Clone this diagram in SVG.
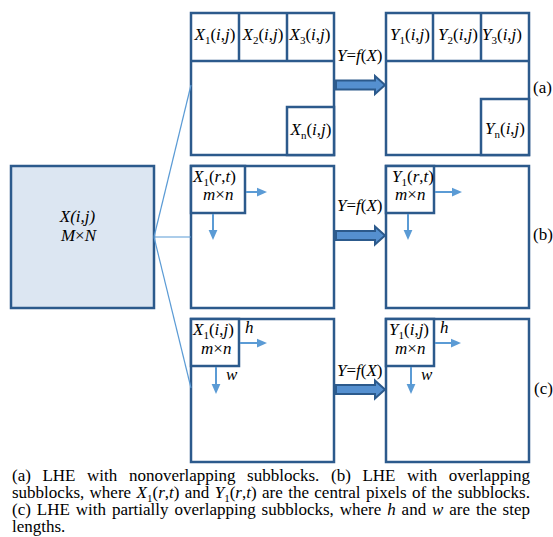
<svg xmlns="http://www.w3.org/2000/svg" width="553" height="537" viewBox="0 0 553 537">
<style>
  .box{fill:#ffffff;stroke:#2c5a8c;stroke-width:2.5}
  .big{fill:#dce6f2;stroke:#2c5a8c;stroke-width:2.5}
  .div{fill:none;stroke:#2c5a8c;stroke-width:2.5}
  .conn{fill:none;stroke:#5b9bd5;stroke-width:1.2}
  .sarr{fill:none;stroke:#5b9bd5;stroke-width:2}
  .barr{fill:#5590d0;stroke:#2c5a8c;stroke-width:2}
  text{font-family:"Liberation Serif","Times New Roman",serif;font-size:17px;fill:#000}
  .i{font-style:italic}
  .sub{font-size:11px;font-style:normal}
</style>
<defs>
  <marker id="ah" markerUnits="userSpaceOnUse" markerWidth="10" markerHeight="10" viewBox="0 0 8 8" refX="0" refY="4" orient="auto">
    <path d="M0,0.5 L8,4 L0,7.5 Z" fill="#5b9bd5"/>
  </marker>
</defs>

<g id="source">
  <rect class="big" x="11" y="166" width="143" height="142"/>
  <text x="77.5" y="222" text-anchor="middle" class="i">X(i,j)</text>
  <text x="78.5" y="241" text-anchor="middle" class="i">M<tspan font-style="normal">×</tspan>N</text>
</g>

<g id="xa">
  <rect class="box" x="191" y="13" width="143" height="142"/>
  <path class="div" d="M191,61 H334 M239,13 V61 M287,13 V61"/>
  <rect class="box" x="287" y="107" width="47" height="48"/>
  <text x="215" y="40" text-anchor="middle"><tspan class="i">X</tspan><tspan class="sub" dy="3.5">1</tspan><tspan dy="-3.5">(</tspan><tspan class="i">i</tspan>,<tspan class="i">j</tspan>)</text>
  <text x="263" y="40" text-anchor="middle"><tspan class="i">X</tspan><tspan class="sub" dy="3.5">2</tspan><tspan dy="-3.5">(</tspan><tspan class="i">i</tspan>,<tspan class="i">j</tspan>)</text>
  <text x="310" y="40" text-anchor="middle"><tspan class="i">X</tspan><tspan class="sub" dy="3.5">3</tspan><tspan dy="-3.5">(</tspan><tspan class="i">i</tspan>,<tspan class="i">j</tspan>)</text>
  <text x="311" y="135" text-anchor="middle"><tspan class="i">X</tspan><tspan class="sub" dy="3.5">n</tspan><tspan dy="-3.5">(</tspan><tspan class="i">i</tspan>,<tspan class="i">j</tspan>)</text>
</g>

<g id="ya">
  <rect class="box" x="386" y="13" width="143" height="142"/>
  <path class="div" d="M386,61 H529 M433,13 V61 M481,13 V61"/>
  <rect class="box" x="481" y="99" width="48" height="56"/>
  <text x="410" y="40" text-anchor="middle"><tspan class="i">Y</tspan><tspan class="sub" dy="3.5">1</tspan><tspan dy="-3.5">(</tspan><tspan class="i">i</tspan>,<tspan class="i">j</tspan>)</text>
  <text x="458" y="40" text-anchor="middle"><tspan class="i">Y</tspan><tspan class="sub" dy="3.5">2</tspan><tspan dy="-3.5">(</tspan><tspan class="i">i</tspan>,<tspan class="i">j</tspan>)</text>
  <text x="502" y="40" text-anchor="middle"><tspan class="i">Y</tspan><tspan class="sub" dy="3.5">3</tspan><tspan dy="-3.5">(</tspan><tspan class="i">i</tspan>,<tspan class="i">j</tspan>)</text>
  <text x="505" y="134" text-anchor="middle"><tspan class="i">Y</tspan><tspan class="sub" dy="3.5">n</tspan><tspan dy="-3.5">(</tspan><tspan class="i">i</tspan>,<tspan class="i">j</tspan>)</text>
</g>

<g id="xb">
  <rect class="box" x="191" y="166" width="143" height="142"/>
  <rect class="box" x="191" y="166" width="54" height="47"/>
  <text x="193" y="182"><tspan class="i">X</tspan><tspan class="sub" dy="3.5">1</tspan><tspan dy="-3.5">(</tspan><tspan class="i">r</tspan>,<tspan class="i">t</tspan>)</text>
  <text x="203" y="200" class="i">m<tspan font-style="normal">×</tspan>n</text>
</g>

<g id="yb">
  <rect class="box" x="386" y="166" width="143" height="142"/>
  <rect class="box" x="386" y="166" width="48" height="47"/>
  <text x="392" y="182"><tspan class="i">Y</tspan><tspan class="sub" dy="3.5">1</tspan><tspan dy="-3.5">(</tspan><tspan class="i">r</tspan>,<tspan class="i">t</tspan>)</text>
  <text x="395" y="200" class="i">m<tspan font-style="normal">×</tspan>n</text>
</g>

<g id="xc">
  <rect class="box" x="191" y="319" width="143" height="143"/>
  <rect class="box" x="191" y="319" width="48" height="47"/>
  <text x="193" y="335"><tspan class="i">X</tspan><tspan class="sub" dy="3.5">1</tspan><tspan dy="-3.5">(</tspan><tspan class="i">i</tspan>,<tspan class="i">j</tspan>)</text>
  <text x="201" y="354" class="i">m<tspan font-style="normal">×</tspan>n</text>
  <text x="245" y="333" class="i">h</text>
  <text x="226" y="380" class="i">w</text>
</g>

<g id="yc">
  <rect class="box" x="386" y="319" width="143" height="143"/>
  <rect class="box" x="386" y="319" width="48" height="47"/>
  <text x="389" y="335"><tspan class="i">Y</tspan><tspan class="sub" dy="3.5">1</tspan><tspan dy="-3.5">(</tspan><tspan class="i">i</tspan>,<tspan class="i">j</tspan>)</text>
  <text x="395" y="354" class="i">m<tspan font-style="normal">×</tspan>n</text>
  <text x="440" y="333" class="i">h</text>
  <text x="421" y="380" class="i">w</text>
</g>

<g id="connectors">
  <line class="conn" x1="154" y1="237" x2="191" y2="85"/>
  <line class="conn" x1="154" y1="237" x2="191" y2="237"/>
  <line class="conn" x1="154" y1="237" x2="191" y2="388"/>
  <path class="barr" d="M336,80.5 H375 V76 L385,85 L375,94 V89.5 H336 Z"/>
  <path class="barr" d="M336,231 H375 V226.5 L385,235.5 L375,244.5 V240 H336 Z"/>
  <path class="barr" d="M336,385 H375 V380.5 L385,389.5 L375,398.5 V394 H336 Z"/>
  <line class="sarr" x1="246" y1="192" x2="257" y2="192" marker-end="url(#ah)"/>
  <line class="sarr" x1="213" y1="214" x2="213" y2="230" marker-end="url(#ah)"/>
  <line class="sarr" x1="435" y1="192" x2="452" y2="192" marker-end="url(#ah)"/>
  <line class="sarr" x1="408" y1="214" x2="408" y2="230" marker-end="url(#ah)"/>
  <line class="sarr" x1="240" y1="343" x2="257" y2="343" marker-end="url(#ah)"/>
  <line class="sarr" x1="216" y1="367" x2="216" y2="384" marker-end="url(#ah)"/>
  <line class="sarr" x1="435" y1="343" x2="451" y2="343" marker-end="url(#ah)"/>
  <line class="sarr" x1="411" y1="367" x2="411" y2="384" marker-end="url(#ah)"/>
</g>

<g id="labels">
  <text x="337" y="61"><tspan class="i">Y</tspan>=<tspan class="i">f</tspan>(<tspan class="i">X</tspan>)</text>
  <text x="337" y="211"><tspan class="i">Y</tspan>=<tspan class="i">f</tspan>(<tspan class="i">X</tspan>)</text>
  <text x="337" y="376"><tspan class="i">Y</tspan>=<tspan class="i">f</tspan>(<tspan class="i">X</tspan>)</text>
  <text x="533" y="93">(a)</text>
  <text x="533" y="240">(b)</text>
  <text x="534" y="394">(c)</text>
</g>

<g id="caption">
  <text y="481"><tspan x="12">(a)</tspan><tspan x="42.4">LHE</tspan><tspan x="87.1">with</tspan><tspan x="128.9">nonoverlapping</tspan><tspan x="247.1">subblocks.</tspan><tspan x="331">(b)</tspan><tspan x="362.4">LHE</tspan><tspan x="407">with</tspan><tspan x="448.8">overlapping</tspan></text>
  <text y="498"><tspan x="12">subblocks,</tspan><tspan x="89.6">where</tspan><tspan x="136.6" class="i">X</tspan><tspan class="sub" dy="3.5">1</tspan><tspan dy="-3.5">(</tspan><tspan class="i">r</tspan>,<tspan class="i">t</tspan>)<tspan x="184.8">and</tspan><tspan x="214.7" class="i">Y</tspan><tspan class="sub" dy="3.5">1</tspan><tspan dy="-3.5">(</tspan><tspan class="i">r</tspan>,<tspan class="i">t</tspan>)<tspan x="262">are</tspan><tspan x="288.2">the</tspan><tspan x="314.3">central</tspan><tspan x="366">pixels</tspan><tspan x="412">of</tspan><tspan x="431.6">the</tspan><tspan x="457.7">subblocks.</tspan></text>
  <text y="515"><tspan x="12">(c)</tspan><tspan x="36.8">LHE</tspan><tspan x="75.7">with</tspan><tspan x="111.9">partially</tspan><tspan x="174.5">overlapping</tspan><tspan x="261.6">subblocks,</tspan><tspan x="339.7">where</tspan><tspan x="387.2" class="i">h</tspan><tspan x="401.6">and</tspan><tspan x="432" class="i">w</tspan><tspan x="449.3">are</tspan><tspan x="476">the</tspan><tspan x="502.6">step</tspan></text>
  <text x="12" y="532">lengths.</text>
</g>
</svg>
